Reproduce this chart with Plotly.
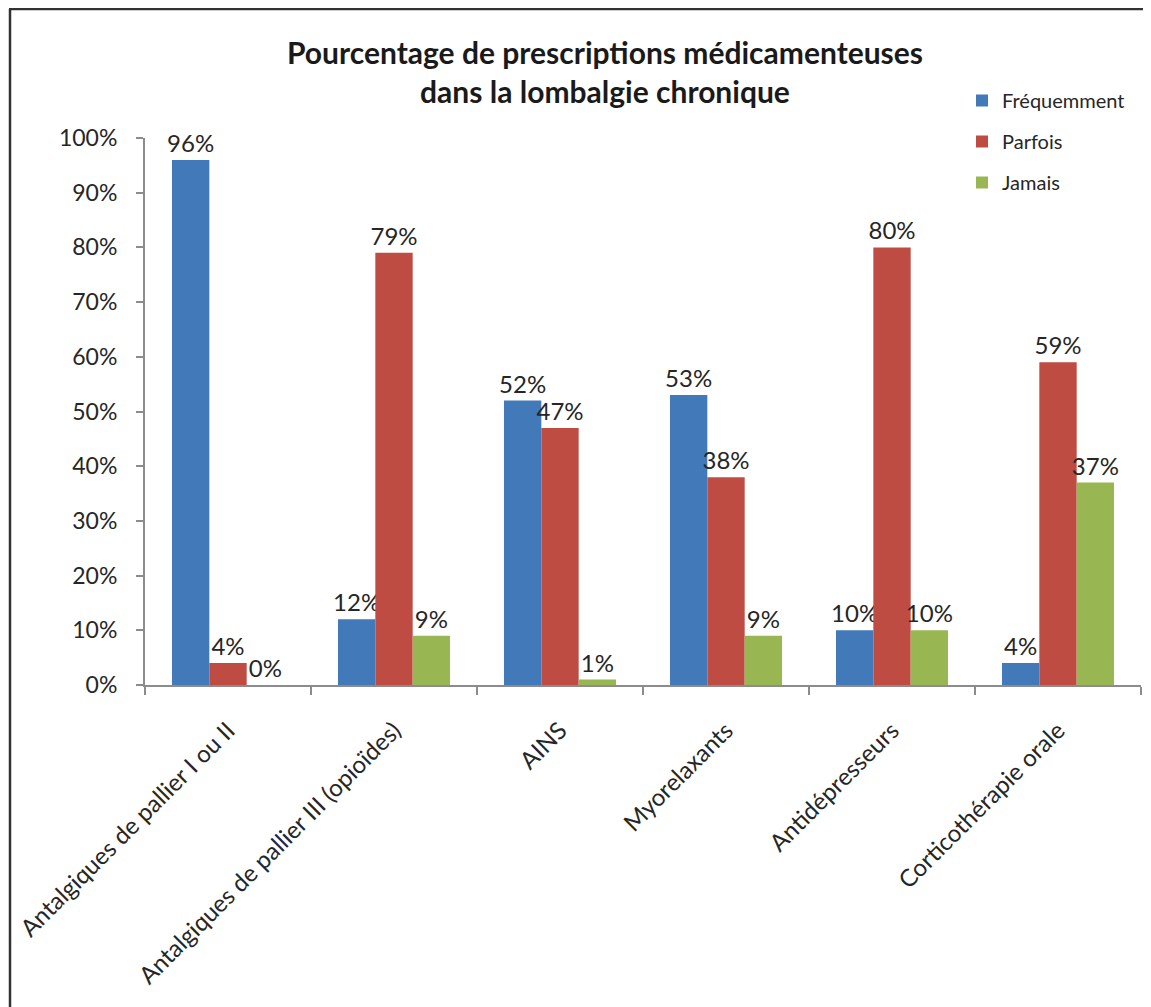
import plotly.graph_objects as go

categories = [
    "Antalgiques de pallier I ou II",
    "Antalgiques de pallier III (opioïdes)",
    "AINS",
    "Myorelaxants",
    "Antidépresseurs",
    "Corticothérapie orale",
]
frequemment = [96, 12, 52, 53, 10, 4]
parfois = [4, 79, 47, 38, 80, 59]
jamais = [0, 9, 1, 9, 10, 37]
series_names = ["Fréquemment", "Parfois", "Jamais"]
colors = ["#4279b8", "#bf4c43", "#98b753"]
y_ticks = [0, 10, 20, 30, 40, 50, 60, 70, 80, 90, 100]

# page has an 8px body margin, so the figure is drawn offset by 8px
OFF = 8
W, H = 1151 - OFF, 1007 - OFF
ML, MR, MT, MB = 145 - OFF, 10, 138 - OFF, 322
PW, PH = W - ML - MR, H - MT - MB

def px_x(p):  # p = page pixel
    return (p - OFF - ML) / PW

def px_y(p):
    return (H - MB - (p - OFF)) / PH

FONT = "Lato, 'Open Sans', sans-serif"

fig = go.Figure()
for name, vals, col in zip(series_names, [frequemment, parfois, jamais], colors):
    fig.add_trace(go.Bar(
        x=categories, y=vals, name=name, legendgroup=name,
        marker=dict(color=col, line=dict(width=0)),
        text=[f"{v}%" for v in vals], textposition="outside",
        textfont=dict(size=24, color="#262626", family=FONT),
        constraintext="none",
        cliponaxis=False,
    ))

fig.update_layout(
    width=W, height=H,
    margin=dict(l=ML, r=MR, t=MT, b=MB, autoexpand=False),
    paper_bgcolor="white", plot_bgcolor="white",
    barmode="group", bargap=0.325, bargroupgap=0,
    font=dict(family=FONT, color="#262626"),
    title=dict(
        text="Pourcentage de prescriptions médicamenteuses<br>dans la lombalgie chronique",
        x=(605 - OFF) / W, xanchor="center", y=1 - (64 - OFF) / H, yanchor="top",
        font=dict(size=30, family=FONT, color="#1a1a1a", weight="bold"),
    ),
    legend=dict(
        x=px_x(962), xanchor="left", y=px_y(81), yanchor="top",
        font=dict(size=20, family=FONT, color="#262626"),
        traceorder="grouped", tracegroupgap=12, bgcolor="rgba(0,0,0,0)",
        itemwidth=30,
    ),
)
fig.update_yaxes(
    range=[0, 100], tickvals=y_ticks, ticktext=[f"{v}%" for v in y_ticks],
    showgrid=False, zeroline=False,
    showline=True, linecolor="#8c8c8c", linewidth=2,
    ticks="outside", ticklen=7, tickcolor="#8c8c8c", tickwidth=2,
    tickfont=dict(size=23, family=FONT, color="#262626"),
    ticklabelstandoff=14,
)
fig.update_xaxes(
    showgrid=False, zeroline=False,
    showline=True, linecolor="#8c8c8c", linewidth=2,
    ticks="outside", ticklen=8, tickcolor="#8c8c8c", tickwidth=2,
    tickson="boundaries", tickangle=-45,
    tickfont=dict(size=24, family=FONT, color="#262626"),
    ticklabelstandoff=20,
)
# outer frame (left and top edges visible)
fig.add_shape(type="line", xref="paper", yref="paper",
              x0=px_x(10), x1=px_x(10), y0=px_y(9), y1=px_y(1020),
              line=dict(color="#333333", width=2.5))
fig.add_shape(type="line", xref="paper", yref="paper",
              x0=px_x(9), x1=px_x(1160), y0=px_y(9), y1=px_y(9),
              line=dict(color="#333333", width=2.5))

fig.write_html("out.html")
